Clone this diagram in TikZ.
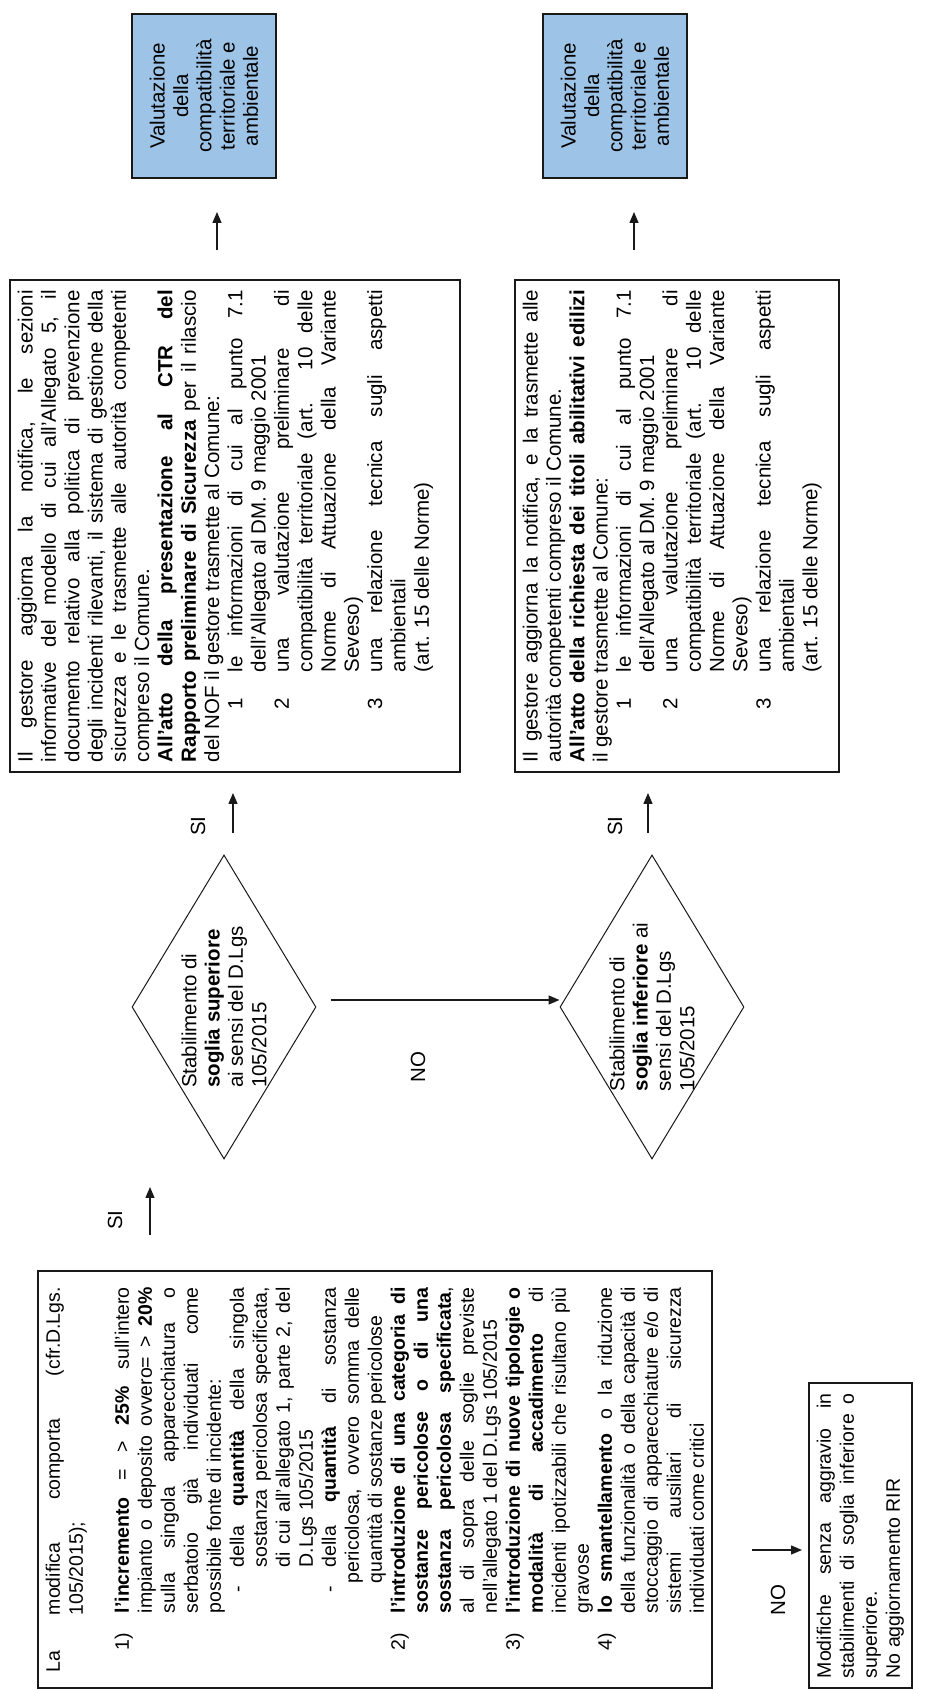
\documentclass[tikz,border=0pt]{standalone}
\usepackage{fontspec}
\setmainfont{Liberation Sans}
\usetikzlibrary{shapes.geometric,arrows.meta,calc}
\definecolor{bluefill}{RGB}{157,195,230}
\definecolor{lineclr}{RGB}{25,25,25}
\setlength{\parindent}{0pt}
\setlength{\parskip}{0pt}
\newcommand{\fs}{\fontsize{20.5}{23.3}\selectfont}
\newcommand{\fsa}{\fontsize{19.5}{23}\selectfont}
% justified line, left-aligned line, numbered lines
\newcommand{\Jl}[2]{\par\noindent\hspace*{#1}\makebox[\dimexpr\linewidth-#1\relax][s]{#2}}
\newcommand{\Ln}[2]{\par\noindent\hspace*{#1}#2}
\newcommand{\Nl}[4]{\par\noindent\hspace*{#1}\makebox[\dimexpr#2-#1\relax][l]{#3}\makebox[\dimexpr\linewidth-#2\relax][s]{#4}}
\begin{document}
\begin{tikzpicture}[x=1pt,y=1pt,
  txt/.style={font=\fs},
  tbox/.style={draw=lineclr, line width=1.6pt, rectangle, inner xsep=10pt, inner ysep=8pt, anchor=north west},
  bluebox/.style={draw=lineclr, line width=1.6pt, fill=bluefill, rectangle, font=\fs, align=center,
                  minimum width=164pt, minimum height=144pt, inner sep=4pt},
  dia/.style={draw=lineclr, line width=1pt, diamond, minimum width=304pt, minimum height=184pt, inner sep=0pt},
  arr/.style={-{Triangle[length=11pt,width=9pt]}, line width=1.4pt, draw=lineclr},
  lbl/.style={font=\fs, inner sep=1pt}]
\begin{scope}[rotate=90, transform shape]
\fill[white] (0,0) rectangle (1690,-940);
\path[use as bounding box] (0,0) rectangle (1690,-940);

% ---------- left box ----------
\node[tbox, inner xsep=16pt] (b1) at (1,-37) {\begin{minipage}[c]{385pt}\fsa
\Nl{0pt}{57pt}{La}{modifica comporta (cfr.D.Lgs.}
\Ln{57pt}{105/2015);}
\Ln{0pt}{~}
\Nl{22pt}{59pt}{1)}{\textbf{l'incremento} = > \textbf{25\%} sull'intero}
\Jl{59pt}{impianto o deposito ovvero= > \textbf{20\%}}
\Jl{59pt}{sulla singola apparecchiatura o}
\Jl{59pt}{serbatoio già individuati come}
\Ln{59pt}{possibile fonte di incidente:}
\Nl{80pt}{105pt}{-}{della \textbf{quantità} della singola}
\Jl{105pt}{sostanza pericolosa specificata,}
\Jl{105pt}{di cui all'allegato 1, parte 2, del}
\Ln{105pt}{D.Lgs 105/2015}
\Nl{80pt}{105pt}{-}{della \textbf{quantità} di sostanza}
\Jl{89pt}{pericolosa, ovvero somma delle}
\Ln{89pt}{quantità di sostanze pericolose}
\Nl{22pt}{59pt}{2)}{\textbf{l'introduzione di una categoria di}}
\Jl{59pt}{\textbf{sostanze pericolose o di una}}
\Jl{59pt}{\textbf{sostanza pericolosa specificata},}
\Jl{59pt}{al di sopra delle soglie previste}
\Ln{59pt}{nell'allegato 1 del D.Lgs 105/2015}
\Nl{22pt}{59pt}{3)}{\textbf{l'introduzione di nuove tipologie o}}
\Jl{59pt}{\textbf{modalità di accadimento} di}
\Jl{59pt}{incidenti ipotizzabili che risultano più}
\Ln{59pt}{gravose}
\Nl{22pt}{59pt}{4)}{\textbf{lo smantellamento} o la riduzione}
\Jl{59pt}{della funzionalità o della capacità di}
\Jl{59pt}{stoccaggio di apparecchiature e/o di}
\Jl{59pt}{sistemi ausiliari di sicurezza}
\Ln{59pt}{individuati come critici}
\end{minipage}};

% ---------- bottom-left box ----------
\node[tbox] (b0) at (1,-808) {\begin{minipage}[c]{285pt}\fsa
\Jl{0pt}{Modifiche senza aggravio in}
\Jl{0pt}{stabilimenti di soglia inferiore o}
\Ln{0pt}{superiore.}
\Ln{0pt}{No aggiornamento RIR}
\end{minipage}};

% ---------- diamonds ----------
\node[dia] (d1) at (683,-224) {};
\node[txt, align=left, inner sep=0pt] (d1t) at (d1.center) {Stabilimento di\\\textbf{soglia superiore}\\ai sensi del D.Lgs\\105/2015};
\node[dia] (d2) at (683,-652) {};
\node[txt, align=left, inner sep=0pt] (d2t) at (d2.center) {Stabilimento di\\\textbf{soglia inferiore} ai\\sensi del D.Lgs\\105/2015};

% ---------- right text boxes ----------
\node[tbox] (t1) at (917,-9) {\begin{minipage}[c][434pt][t]{472pt}\fs
\Jl{0pt}{Il gestore aggiorna la notifica, le sezioni}
\Jl{0pt}{informative del modello di cui all'Allegato 5, il}
\Jl{0pt}{documento relativo alla politica di prevenzione}
\Jl{0pt}{degli incidenti rilevanti, il sistema di gestione della}
\Jl{0pt}{sicurezza e le trasmette alle autorità competenti}
\Ln{0pt}{compreso il Comune.}
\Jl{0pt}{\textbf{All'atto della presentazione al CTR del}}
\Jl{0pt}{\textbf{Rapporto preliminare di Sicurezza} per il rilascio}
\Ln{0pt}{del NOF il gestore trasmette al Comune:}
\Nl{53pt}{90pt}{1}{le informazioni di cui al punto 7.1}
\Ln{90pt}{dell'Allegato al DM. 9 maggio 2001}
\Nl{53pt}{90pt}{2}{una valutazione preliminare di}
\Jl{90pt}{compatibilità territoriale (art. 10 delle}
\Jl{90pt}{Norme di Attuazione della Variante}
\Ln{90pt}{Seveso)}
\Nl{53pt}{90pt}{3}{una relazione tecnica sugli aspetti}
\Ln{90pt}{ambientali}
\Ln{90pt}{(art. 15 delle Norme)}
\end{minipage}};

\node[tbox] (t2) at (917,-514) {\begin{minipage}[c][308pt][t]{472pt}\fs
\Jl{0pt}{Il gestore aggiorna la notifica, e la trasmette alle}
\Ln{0pt}{autorità competenti compreso il Comune.}
\Jl{0pt}{\textbf{All'atto della richiesta dei titoli abilitativi edilizi}}
\Ln{0pt}{il gestore trasmette al Comune:}
\Nl{53pt}{90pt}{1}{le informazioni di cui al punto 7.1}
\Ln{90pt}{dell'Allegato al DM. 9 maggio 2001}
\Nl{53pt}{90pt}{2}{una valutazione preliminare di}
\Jl{90pt}{compatibilità territoriale (art. 10 delle}
\Jl{90pt}{Norme di Attuazione della Variante}
\Ln{90pt}{Seveso)}
\Nl{53pt}{90pt}{3}{una relazione tecnica sugli aspetti}
\Ln{90pt}{ambientali}
\Ln{90pt}{(art. 15 delle Norme)}
\end{minipage}};

% ---------- blue boxes ----------
\node[bluebox] (v1) at (1594,-204) {Valutazione\\della\\compatibilità\\territoriale e\\ambientale};
\node[bluebox] (v2) at (1594,-615) {Valutazione\\della\\compatibilità\\territoriale e\\ambientale};

% ---------- connectors ----------
\coordinate (s0a) at (455,-150);
\coordinate (s0b) at (503,-150);
\draw[arr] (s0a) -- (s0b);
\node[lbl] (si0) at (470,-115) {SI};

\coordinate (n0a) at (140,-752);
\coordinate (n0b) at (140,-802);
\draw[arr] (n0a) -- (n0b);
\node[lbl] (no0) at (90,-778) {NO};

\coordinate (s1a) at (857,-233);
\coordinate (s1b) at (897,-233);
\draw[arr] (s1a) -- (s1b);
\node[lbl] (si1) at (864,-198) {SI};

\coordinate (n1a) at ($(d1.south)+(7,-14)$);
\draw[arr] (n1a) -- ($(d2.north)+(7,0)$);
\node[lbl] (no1) at (623,-418) {NO};

\coordinate (s2a) at (857,-648);
\coordinate (s2b) at (897,-648);
\draw[arr] (s2a) -- (s2b);
\node[lbl] (si2) at (864,-615) {SI};

\coordinate (v1a) at (1440,-217);
\coordinate (v1b) at (1478,-217);
\draw[arr] (v1a) -- (v1b);
\coordinate (v2a) at (1440,-634);
\coordinate (v2b) at (1478,-634);
\draw[arr] (v2a) -- (v2b);
\end{scope}
\end{tikzpicture}
\end{document}
